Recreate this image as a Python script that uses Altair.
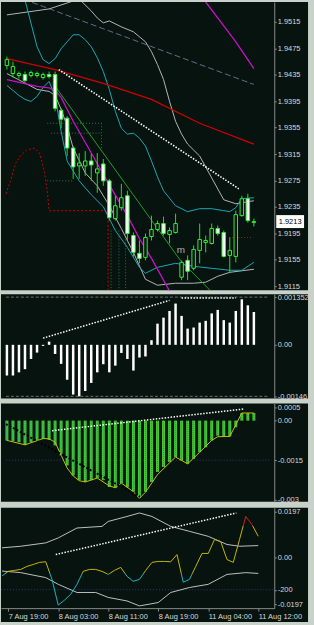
import json
import pandas as pd
import altair as alt

# ---------------- data ----------------
time_labels = ["7 Aug 19:00", "8 Aug 03:00", "8 Aug 11:00", "8 Aug 19:00", "11 Aug 04:00", "11 Aug 12:00"]
time_label_bars = [1, 9, 17, 25, 33, 41]
price_ticks = [1.9115, 1.9155, 1.9195, 1.9235, 1.9275, 1.9315, 1.9355, 1.9395, 1.9435, 1.9475, 1.9515]

c_open = [1.94489, 1.94368, 1.94338, 1.94353, 1.94338, 1.94338, 1.94308, 1.94353, 1.94353, 1.93812,
          1.93692, 1.93241, 1.92970, 1.92970, 1.93045, 1.92865, 1.93000, 1.92744, 1.92173, 1.92338,
          1.92519, 1.91917, 1.91647, 1.91586, 1.91902, 1.92008, 1.92098, 1.91932, 1.91962, 1.91286,
          1.91541, 1.91421, 1.91692, 1.91812, 1.91797, 1.92023, 1.91962, 1.91616, 1.91601, 1.92218,
          1.92474, 1.92113]
c_high = [1.94624, 1.94549, 1.94398, 1.94398, 1.94413, 1.94398, 1.94383, 1.94398, 1.94398, 1.93842,
          1.93722, 1.93271, 1.93165, 1.93195, 1.93150, 1.93165, 1.93075, 1.92774, 1.92519, 1.92699,
          1.92594, 1.91962, 1.91842, 1.91947, 1.92218, 1.92143, 1.92203, 1.92038, 1.92248, 1.91541,
          1.91616, 1.91767, 1.92098, 1.91917, 1.92098, 1.92068, 1.91992, 1.91887, 1.92293, 1.92519,
          1.92549, 1.92173]
c_low = [1.94428, 1.94308, 1.94293, 1.94233, 1.94308, 1.94308, 1.94278, 1.94293, 1.93797, 1.93541,
         1.93120, 1.92774, 1.92774, 1.92820, 1.92744, 1.92564, 1.92669, 1.92143, 1.92143, 1.92293,
         1.91842, 1.91601, 1.91496, 1.91541, 1.91842, 1.91977, 1.91917, 1.91797, 1.91947, 1.91241,
         1.91241, 1.91391, 1.91496, 1.91662, 1.91782, 1.91917, 1.91586, 1.91346, 1.91511, 1.92203,
         1.92113, 1.92053]
c_close = [1.94579, 1.94474, 1.94368, 1.94263, 1.94383, 1.94368, 1.94353, 1.94323, 1.93842, 1.93677,
           1.93241, 1.92955, 1.93015, 1.93045, 1.92985, 1.92925, 1.92744, 1.92188, 1.92368, 1.92489,
           1.91947, 1.91662, 1.91571, 1.91887, 1.92008, 1.92098, 1.91947, 1.91992, 1.92098, 1.91511,
           1.91376, 1.91707, 1.91857, 1.91842, 1.92023, 1.91947, 1.91601, 1.91692, 1.92233, 1.92474,
           1.92143, 1.92128]

ma_red_i = [0, 8, 16, 24, 32, 41]
ma_red_p = [1.94594, 1.94428, 1.94218, 1.93977, 1.93616, 1.93301]

mag_up_i = [33, 36, 38, 41]
mag_up_p = [1.95451, 1.95090, 1.94849, 1.94443]
mag_lo_i = [0, 5, 7, 8, 9, 11, 14, 17, 20, 22, 24, 27]
mag_lo_p = [1.94278, 1.94173, 1.94150, 1.94113, 1.94007, 1.93646, 1.93165, 1.92684, 1.92218, 1.91872, 1.91571, 1.91075]

dash_gray_i = [0, 41]
dash_gray_p = [1.95586, 1.94203]

gray_up_i = [0, 7, 10, 12, 14, 15, 16, 17, 19, 21, 23, 24, 25, 26, 27, 28, 29, 30, 31, 32, 34, 36, 38, 41]
gray_up_p = [1.95256, 1.95346, 1.95436, 1.95496, 1.95316, 1.95210, 1.95135, 1.95165, 1.95075, 1.95000,
             1.94849, 1.94699, 1.94504, 1.94278, 1.93947, 1.93646, 1.93451, 1.93301, 1.93210, 1.93120,
             1.92789, 1.92458, 1.92398, 1.92443]
gray_lo_i = [0, 5, 7, 8, 9, 10, 11, 13, 15, 17, 19, 21, 23, 25, 28, 31, 33, 35, 37, 41]
gray_lo_p = [1.94368, 1.94128, 1.94098, 1.94037, 1.93827, 1.93571, 1.93240, 1.92865, 1.92669, 1.92368,
             1.92022, 1.91662, 1.91255, 1.91165, 1.91195, 1.91195, 1.91210, 1.91300, 1.91360, 1.91406]

cyan_up_i = [3, 5, 6, 7, 8, 9, 10, 11, 12, 13, 14, 15, 16, 17, 18, 19, 20, 21, 22, 23, 24, 25, 26, 28,
             30, 32, 34, 36, 37, 38, 39, 41]
cyan_up_p = [1.95481, 1.94774, 1.94579, 1.94519, 1.94594, 1.94744, 1.94849, 1.94955, 1.94955, 1.94880,
             1.94774, 1.94609, 1.94398, 1.94128, 1.93797, 1.93541, 1.93451, 1.93466, 1.93391, 1.93271,
             1.93045, 1.92804, 1.92594, 1.92368, 1.92278, 1.92323, 1.92323, 1.92293, 1.92278, 1.92338,
             1.92474, 1.92489]
cyan_lo_i = [0, 2, 3, 4, 5, 6, 7, 8, 9, 10, 12, 14, 16, 18, 20, 22, 23, 25, 28, 31, 34, 37, 39, 41]
cyan_lo_p = [1.94188, 1.94037, 1.93977, 1.93947, 1.94022, 1.94158, 1.94248, 1.94022, 1.93496, 1.93045,
             1.92744, 1.92534, 1.92353, 1.91992, 1.91737, 1.91436, 1.91346, 1.91436, 1.91496, 1.91451,
             1.91421, 1.91391, 1.91391, 1.91511]

trend_i = [8.6, 38.5]
trend_p = [1.94428, 1.92624]

green_i = [7.8, 28.8, 33.7]
green_p = [1.94203, 1.91541, 1.91090]

red_dot_i = [-0.16, 0.6, 1.4, 2.2, 3.3, 4.6, 5.4, 6.2, 6.7, 7.0, 16.0, 16.8, 16.8]
red_dot_p = [1.92549, 1.92744, 1.93000, 1.93120, 1.93210, 1.93240, 1.93165, 1.92895, 1.92594, 1.92293,
             1.92293, 1.92263, 1.91090]

gdot_seg = [0, 0, 1, 1, 2, 2, 3, 3, 4, 4, 5, 5, 6, 6]
gdot_i = [6.7, 15.7, 7.3, 15.7, 6.7, 11.0, 17.3, 17.3, 18.6, 18.6, 19.7, 19.7, 15.7, 15.7]
gdot_p = [1.93616, 1.93616, 1.93466, 1.93466, 1.92744, 1.92744, 1.91992, 1.91090, 1.91992, 1.91090,
          1.91992, 1.91090, 1.93616, 1.93195]
brown_i = [36.9, 40.9]
brown_p = [1.91887, 1.91887]

mark_m_i = [28.9]
mark_m_p = [1.91692]
mark_m_text = ["m"]

# panel 2 (momentum histogram)
mom = [-0.00087, -0.00087, -0.00078, -0.00069, -0.00040, -0.00022, -0.00003, 0.00009, -0.00026, -0.00054,
       -0.00099, -0.00141, -0.00146, -0.00131, -0.00108, -0.00078, -0.00055, -0.00078, -0.00059, -0.00023,
       -0.00040, -0.00073, -0.00036, -0.00033, 0.00013, 0.00060, 0.00077, 0.00096, 0.00117, 0.00082,
       0.00046, 0.00049, 0.00063, 0.00068, 0.00089, 0.00099, 0.00070, 0.00063, 0.00096, 0.00129,
       0.00112, 0.00093]
mom_ticks = [0.001352, 0.0, -0.00146]
mom_tick_labels = ["0.001352", "0.00", "-0.00146"]
mom_trend_i = [6.0, 27.0]
mom_trend_v = [0.000189, 0.00126]
mom_flat_i = [29.0, 38.0]
mom_flat_v = [0.00133, 0.00133]

# panel 3 (OsMA histogram + signal)
osma = [-0.000755, -0.00078, -0.00082, -0.00092, -0.00082, -0.00075, -0.00069, -0.00073, -0.00094, -0.00132,
        -0.0017, -0.00208, -0.00226, -0.00233, -0.00226, -0.00218, -0.00226, -0.00252, -0.00255, -0.00237,
        -0.00253, -0.0027, -0.00292, -0.0027, -0.00233, -0.00195, -0.00176, -0.00157, -0.00138, -0.00151,
        -0.00164, -0.00145, -0.0012, -0.00101, -0.00075, -0.00057, -0.0006, -0.0006, -0.00025, 0.00029,
        0.00029, 0.00029]
sig_i = [0, 3, 6, 7, 8, 10, 11, 12, 13, 15, 17, 18, 19, 21, 22, 23, 25, 28, 30, 32, 34, 35, 37, 39, 41]
sig_v = [-0.00075, -0.00092, -0.00068, -0.00069, -0.00082, -0.0018, -0.0021, -0.00228, -0.00233, -0.00218,
         -0.00248, -0.00255, -0.00237, -0.0027, -0.00295, -0.00272, -0.00205, -0.00138, -0.00164, -0.0012,
         -0.00075, -0.00061, -0.0006, 0.00029, 0.00029]
osma_ticks = [0.0005, 0.0, -0.0015, -0.003]
osma_tick_labels = ["0.0005", "0.00", "-0.0015", "-0.003"]
osma_white_i = [7.5, 39.3]
osma_white_v = [-0.00038, 0.00044]
osma_black_i = [-0.16, 22.1]
osma_black_v = [-0.00013, -0.0029]

# panel 4 (CCI with envelope)
cci = [-114, -85, -79, -73, -54, -42, -29, -25, -135, -296, -265, -228, -166, -85, -73, -73, -85, -104, -79, -60,
       -116, -147, -135, -79, -29, -23, -23, -25, 20, -153, -135, -54, 27, 27, 114, 101, -11, -29, 114, 258,
       207, 134]
env_up_i = [0, 3, 7, 9, 12, 16, 17, 20, 22, 24, 27, 30, 33, 36, 38, 41]
env_up_v = [62, 72, 93, 124, 186, 196, 227, 258, 280, 258, 196, 165, 134, 83, 72, 76]
env_lo_i = [0, 3, 7, 9, 12, 15, 17, 20, 22, 25, 27, 30, 33, 36, 39, 41]
env_lo_v = [-83, -93, -124, -166, -217, -217, -248, -270, -301, -280, -217, -186, -166, -104, -93, -98]
cci_trend_i = [8.6, 37.5]
cci_trend_v = [20, 280]
cci_ticks = [290, 0, -200, -290]
cci_tick_labels = ["0.0197", "0.00", "-200", "-0.0197"]

# ---------------- style ----------------
BG = "#07130f"
LIGHT = "#c8d2c8"
AX = "#8a8a8a"
LBL = "#d8d8d8"
FONT = "Liberation Sans"
W = 309
PLOT_W = 275
XS = alt.Scale(domain=[-0.159, 43.56], range=[0, PLOT_W], nice=False, zero=False)

axis_style = dict(tickSize=2, labelPadding=1, tickColor=AX, domainColor=AX, labelColor=LBL,
                  labelFont=FONT, labelFontSize=7.5, labelOverlap=False, labelFlush=False, grid=False)


def label_expr(values, labels):
    expr = "''"
    for v, t in zip(values, labels):
        expr = f"abs(datum.value - ({v})) < 1e-9 ? '{t}' : " + expr
    return expr


def X(field="i"):
    return alt.X(f"{field}:Q", scale=XS, axis=None)


def make_y(domain, axis, rng=None):
    sc = alt.Scale(domain=domain, nice=False, zero=False) if rng is None else \
        alt.Scale(domain=domain, range=rng, nice=False, zero=False)

    def f(field):
        return alt.Y(f"{field}:Q", scale=sc, axis=axis, title=None)
    return f


def line(df, y, color, width=1.0, dash=None, xf=X, detail=None):
    kw = dict(color=color, strokeWidth=width, clip=True)
    if dash is not None:
        kw["strokeDash"] = dash
    enc = dict(x=xf("i"), y=y("p"))
    if detail is not None:
        enc["detail"] = detail
    return alt.Chart(df).mark_line(**kw).encode(**enc)


def pts(ii, vv):
    return pd.DataFrame({"i": ii, "p": vv})


# ---------------- panel 1: price ----------------
Y1 = make_y([1.91090, 1.95451],
            alt.Axis(orient="right", offset=PLOT_W - W, values=price_ticks, format=".4f", **axis_style))

candles = pd.DataFrame({"i": list(range(len(c_open))), "open": c_open, "high": c_high,
                        "low": c_low, "close": c_close})
candles["kind"] = ["bull" if c >= o else "bear" for o, c in zip(c_open, c_close)]

layers1 = [
    line(pts(gdot_i, gdot_p).assign(seg=gdot_seg), Y1, "#2a7a48", 1, [1, 2], detail="seg:N"),
    line(pts(brown_i, brown_p), Y1, "#7a2a2a", 1, [1, 2]),
    line(pts(red_dot_i, red_dot_p), Y1, "#c80000", 1, [2, 2]),
    line(pts(dash_gray_i, dash_gray_p), Y1, "#6a6a88", 1, [6, 3]),
    line(pts(gray_up_i, gray_up_p), Y1, "#b4b4b4", 1),
    line(pts(gray_lo_i, gray_lo_p), Y1, "#b4b4b4", 1),
    line(pts(cyan_up_i, cyan_up_p), Y1, "#1ea7b4", 1),
    line(pts(cyan_lo_i, cyan_lo_p), Y1, "#1ea7b4", 1),
    line(pts(ma_red_i, ma_red_p), Y1, "#d00000", 1.3),
    line(pts(mag_up_i, mag_up_p), Y1, "#c810c8", 1.3),
    line(pts(mag_lo_i, mag_lo_p), Y1, "#c810c8", 1.3),
    line(pts(green_i, green_p), Y1, "#22a022", 1),
    alt.Chart(candles).mark_rule(color="#22dd22", strokeWidth=1).encode(
        x=X("i"), y=Y1("low"), y2="high"),
    alt.Chart(candles).mark_bar(size=3.5, stroke="#33ee33", strokeWidth=1).encode(
        x=X("i"), y=Y1("open"), y2="close",
        fill=alt.Fill("kind:N", scale=alt.Scale(domain=["bull", "bear"], range=[BG, "#ffffff"]), legend=None)),
    line(pts(trend_i, trend_p), Y1, "#ffffff", 1.6, [1.5, 1.5]),
    alt.Chart(pd.DataFrame({"i": mark_m_i, "p": mark_m_p, "t": mark_m_text})).mark_text(
        color="#b0b0b0", font=FONT, fontSize=10, baseline="middle").encode(x=X("i"), y=Y1("p"), text="t:N"),
]
last = pd.DataFrame({"p": [c_close[-1]]})
last["ptop"] = last["p"] + 0.00098
last["pbot"] = last["p"] - 0.00098
layers1 += [
    alt.Chart(last).mark_rect(fill="#ffffff").encode(
        x=alt.value(277), x2=alt.value(305), y=Y1("ptop"), y2="pbot"),
    alt.Chart(last).mark_text(color="#000000", font=FONT, fontSize=7.5, baseline="middle",
                              align="center").encode(
        x=alt.value(291), y=Y1("p"), text=alt.Text("p:Q", format=".4f")),
]
p1 = alt.layer(*layers1).properties(width=W, height=290)

# ---------------- panel 2: momentum ----------------
Y2 = make_y([-0.001521, 0.001437],
            alt.Axis(orient="right", offset=PLOT_W - W, values=mom_ticks,
                     labelExpr=label_expr(mom_ticks, mom_tick_labels), **axis_style))
mdf = pd.DataFrame({"i": list(range(len(mom))), "p": mom})
lev2 = pd.DataFrame({"p": [mom_ticks[0], mom_ticks[2]], "a": [-0.159, -0.159], "b": [43.56, 43.56]})
p2 = alt.layer(
    alt.Chart(lev2).mark_rule(color="#707070", strokeDash=[3, 2], strokeWidth=1).encode(
        x=X("a"), x2="b", y=Y2("p")),
    alt.Chart(mdf).mark_bar(size=2.5, color="#ffffff").encode(x=X("i"), y=Y2("p"), y2=alt.datum(0)),
    line(pts(mom_trend_i, mom_trend_v), Y2, "#ffffff", 1.5, [1.5, 1.5]),
    line(pts(mom_flat_i, mom_flat_v), Y2, "#ffffff", 1.5, [1.5, 1.5]),
).properties(width=W, height=105)

# ---------------- panel 3: OsMA ----------------
Y3 = make_y([-0.003083, 0.000653],
            alt.Axis(orient="right", offset=PLOT_W - W, values=osma_ticks,
                     labelExpr=label_expr(osma_ticks, osma_tick_labels), **axis_style))
odf = pd.DataFrame({"i": list(range(len(osma))), "p": osma})
lev3 = pd.DataFrame({"p": [-0.0015], "a": [-0.159], "b": [43.56]})
p3 = alt.layer(
    alt.Chart(lev3).mark_rule(color="#2a3a80", strokeDash=[1, 2], strokeWidth=1).encode(
        x=X("a"), x2="b", y=Y3("p")),
    alt.Chart(odf).mark_bar(size=3, color="#44cc33").encode(x=X("i"), y=Y3("p"), y2=alt.datum(0)),
    alt.Chart(odf).mark_rule(color="#1b8f7f", strokeDash=[1, 1], strokeWidth=1).encode(
        x=X("i"), y=Y3("p"), y2=alt.datum(0)),
    line(pts(sig_i, sig_v), Y3, "#c8c000", 1),
    line(pts(osma_black_i, osma_black_v), Y3, "#000000", 2, [2, 2]),
    line(pts(osma_white_i, osma_white_v), Y3, "#ffffff", 1.5, [1.5, 1.5]),
).properties(width=W, height=99)

# ---------------- panel 4: CCI ----------------
Y4 = make_y([-314.9, 312.4],
            alt.Axis(orient="right", offset=PLOT_W - W, values=cci_ticks,
                     labelExpr=label_expr(cci_ticks, cci_tick_labels), **axis_style),
            rng=[101, 0])
time_expr = f"{json.dumps(time_labels)}[(datum.value - 1) / 8]"


def X4(field="i"):
    return alt.X(f"{field}:Q", scale=XS, title=None,
                 axis=alt.Axis(orient="bottom", offset=-14, values=time_label_bars, labelExpr=time_expr,
                               labelAlign="left", labelBaseline="top", tickSize=3, labelPadding=1,
                               tickColor=AX, domainColor=AX, labelColor=LBL, labelFont=FONT,
                               labelFontSize=7.5, labelOverlap=False, labelFlush=False, grid=False))


def cstate(v):
    return "up" if v > 200 else ("down" if v < -100 else "mid")


rows = []
seg = 0
for k in range(len(cci) - 1):
    v0, v1 = cci[k], cci[k + 1]
    cuts = [0.0, 1.0]
    for th in (-100, 200):
        if (v0 - th) * (v1 - th) < 0:
            cuts.append((th - v0) / (v1 - v0))
    cuts.sort()
    for a, b in zip(cuts[:-1], cuts[1:]):
        va = v0 + a * (v1 - v0)
        vb = v0 + b * (v1 - v0)
        st = cstate((va + vb) / 2)
        rows.append({"seg": seg, "i": k + a, "p": va, "st": st})
        rows.append({"seg": seg, "i": k + b, "p": vb, "st": st})
        seg += 1
cdf = pd.DataFrame(rows)
lev4 = pd.DataFrame({"p": [-200], "a": [-0.159], "b": [43.56]})
p4 = alt.layer(
    alt.Chart(lev4).mark_rule(color="#2a3a80", strokeDash=[1, 2], strokeWidth=1).encode(
        x=X4("a"), x2="b", y=Y4("p")),
    line(pts(env_up_i, env_up_v), Y4, "#c0c0c0", 1, xf=X4),
    line(pts(env_lo_i, env_lo_v), Y4, "#c0c0c0", 1, xf=X4),
    alt.Chart(cdf).mark_line(strokeWidth=1, clip=True).encode(
        x=X4("i"), y=Y4("p"), detail="seg:N",
        color=alt.Color("st:N", scale=alt.Scale(domain=["down", "mid", "up"],
                                                range=["#1eb4c0", "#c8b400", "#d02020"]), legend=None)),
    line(pts(cci_trend_i, cci_trend_v), Y4, "#ffffff", 1.5, [1.5, 1.5], xf=X4),
).properties(width=W, height=115)

chart = alt.vconcat(p1, p2, p3, p4, spacing=3).properties(
    background=LIGHT,
    padding={"left": 0, "top": 0, "right": 5, "bottom": 7},
).configure_view(fill=BG, strokeWidth=0)

chart.save("out.html", embed_options={"renderer": "svg", "actions": False})
